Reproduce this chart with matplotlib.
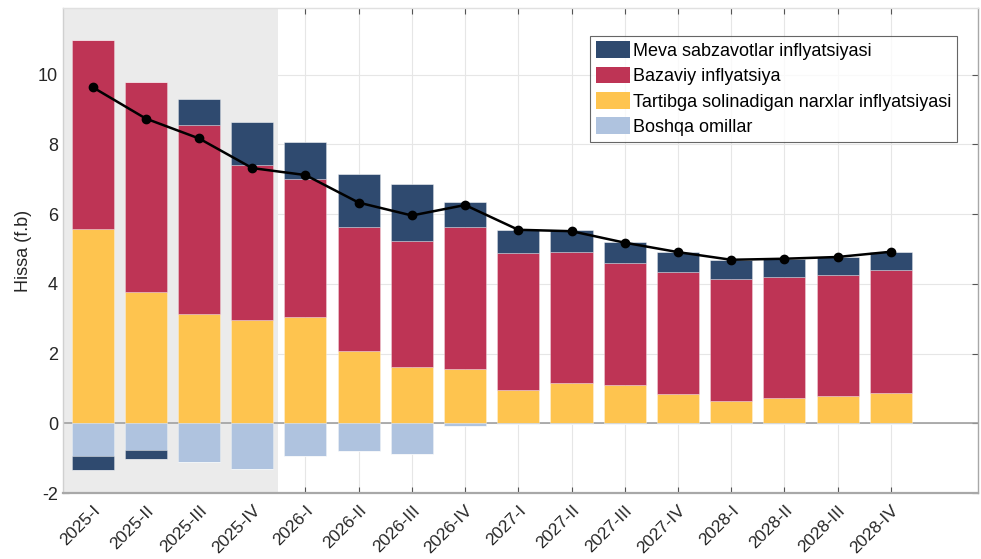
import matplotlib.pyplot as plt
import matplotlib.patches as mpatches
import matplotlib.transforms as mtransforms
import numpy as np

plt.rcParams['font.family'] = ['Liberation Sans', 'DejaVu Sans']
plt.rcParams['font.size'] = 13

quarters = ['2025-I', '2025-II', '2025-III', '2025-IV',
            '2026-I', '2026-II', '2026-III', '2026-IV',
            '2027-I', '2027-II', '2027-III', '2027-IV',
            '2028-I', '2028-II', '2028-III', '2028-IV']

meva = [-0.39, -0.26, 0.73, 1.23, 1.06, 1.52, 1.63, 0.71,
        0.67, 0.63, 0.60, 0.57, 0.54, 0.52, 0.52, 0.52]
bazaviy = [5.43, 6.01, 5.42, 4.44, 3.96, 3.55, 3.61, 4.08,
           3.93, 3.77, 3.52, 3.50, 3.50, 3.47, 3.47, 3.53]
tartibga = [5.57, 3.78, 3.14, 2.96, 3.05, 2.08, 1.62, 1.56,
            0.95, 1.15, 1.09, 0.84, 0.65, 0.72, 0.78, 0.87]
boshqa = [-0.94, -0.77, -1.11, -1.30, -0.94, -0.80, -0.87, -0.07,
          -0.01, -0.03, -0.03, -0.01, -0.03, -0.01, -0.01, -0.01]
umumiy = [9.64, 8.74, 8.17, 7.32, 7.12, 6.33, 5.96, 6.26,
          5.55, 5.51, 5.18, 4.91, 4.69, 4.72, 4.77, 4.92]

c_meva = '#2F4A6F'
c_baz = '#BE3455'
c_tart = '#FEC44F'
c_bosh = '#AFC3DF'

series = {
    'Meva sabzavotlar inflyatsiyasi': (np.array(meva), c_meva),
    'Bazaviy inflyatsiya': (np.array(bazaviy), c_baz),
    'Tartibga solinadigan narxlar inflyatsiyasi': (np.array(tartibga), c_tart),
    'Boshqa omillar': (np.array(boshqa), c_bosh),
}
pos_order = ['Tartibga solinadigan narxlar inflyatsiyasi', 'Bazaviy inflyatsiya',
             'Meva sabzavotlar inflyatsiyasi', 'Boshqa omillar']
neg_order = ['Boshqa omillar', 'Meva sabzavotlar inflyatsiyasi',
             'Tartibga solinadigan narxlar inflyatsiyasi', 'Bazaviy inflyatsiya']

fig = plt.figure(figsize=(9.81, 5.59), dpi=100)
ax = fig.add_axes([0.064, 0.118, 0.933, 0.867])

x = np.arange(1, len(quarters) + 1)
w = 0.79

ax.set_xlim(0.44, 17.64)
ax.set_ylim(-2, 11.9)

# prognozdan oldingi davr
ax.axvspan(0.44, 4.49, color='#EBEBEB', zorder=1, lw=0)

ax.set_axisbelow(True)
ax.grid(True, color='#E6E6E6', lw=0.8, zorder=0)
ax.axhline(0, color='#A0A0A0', lw=1.2, zorder=2)

pos_bottom = np.zeros(len(x))
for name in pos_order:
    vals, col = series[name]
    v = np.where(vals > 0, vals, 0)
    ax.bar(x, v, w, bottom=pos_bottom, color=col, edgecolor=(1, 1, 1, 0.35),
           linewidth=0.6, zorder=3)
    pos_bottom += v

neg_bottom = np.zeros(len(x))
for name in neg_order:
    vals, col = series[name]
    v = np.where(vals < 0, vals, 0)
    ax.bar(x, v, w, bottom=neg_bottom, color=col, edgecolor=(1, 1, 1, 0.35),
           linewidth=0.6, zorder=3)
    neg_bottom += v

ax.plot(x, umumiy, color='black', lw=1.8, marker='o', markersize=6, zorder=4)

ax.set_xticks(x)
ax.set_xticklabels(quarters, rotation=45, ha='right', va='top',
                   rotation_mode='anchor', fontsize=12.5, color='#262626')
shift = mtransforms.ScaledTranslation(8 / 100, 0, fig.dpi_scale_trans)
for lbl in ax.get_xticklabels():
    lbl.set_transform(lbl.get_transform() + shift)
ax.set_yticks(np.arange(-2, 11, 2))
ax.set_yticklabels([str(v) for v in range(-2, 11, 2)], fontsize=13, color='#262626')
ax.tick_params(axis='both', direction='in', length=4, color='#555555',
               top=True, right=True)
ax.tick_params(axis='x', pad=7)
ax.set_ylabel('Hissa (f.b)', fontsize=13, color='#262626', labelpad=4)

for s in ax.spines.values():
    s.set_color('#A8A8A8')
    s.set_linewidth(1.0)
ax.spines['left'].set_color('#D0D0D0')
ax.spines['top'].set_color('#E0E0E0')
ax.spines['bottom'].set_linewidth(1.6)

handles = [mpatches.Patch(facecolor=series[n][1], edgecolor='none', label=n)
           for n in ['Meva sabzavotlar inflyatsiyasi', 'Bazaviy inflyatsiya',
                     'Tartibga solinadigan narxlar inflyatsiyasi', 'Boshqa omillar']]
leg = ax.legend(handles=handles, loc='upper left', bbox_to_anchor=(0.576, 0.944),
                fontsize=13, frameon=True, fancybox=False, handlelength=1.9,
                handleheight=1.05, labelspacing=0.38, handletextpad=0.15,
                borderpad=0.32, borderaxespad=0)
leg.get_frame().set_edgecolor('#404040')
leg.get_frame().set_linewidth(0.8)
leg.set_zorder(5)

plt.savefig('out.png', dpi=100, facecolor='white')
